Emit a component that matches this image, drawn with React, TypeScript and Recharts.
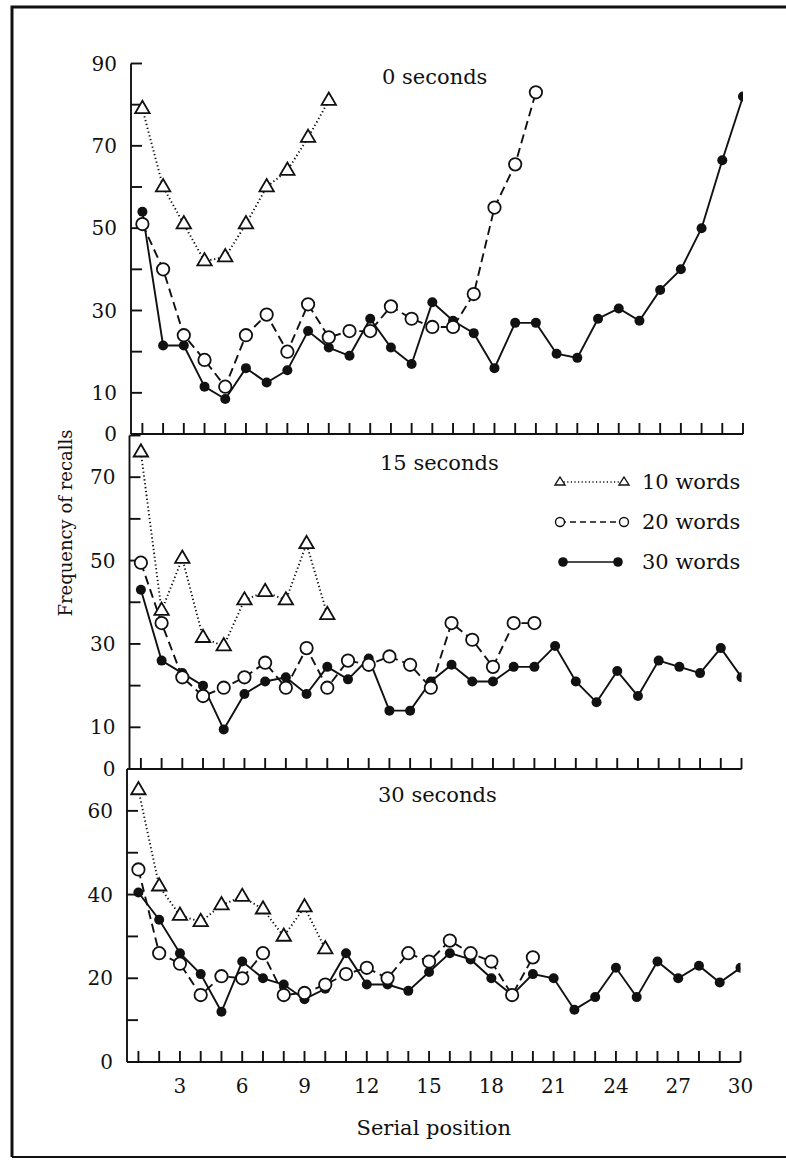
import React from "react";
import { LineChart, Line, XAxis, YAxis, Legend } from "recharts";

// serial positions
const positions = [1, 2, 3, 4, 5, 6, 7, 8, 9, 10, 11, 12, 13, 14, 15, 16, 17, 18, 19, 20, 21, 22, 23, 24, 25, 26, 27, 28, 29, 30];
const xTicks = positions;
const xLabelTicks = [3, 6, 9, 12, 15, 18, 21, 24, 27, 30];

// 0 seconds
const w10_0 = [79, 60, 51, 42, 43, 51, 60, 64, 72, 81];
const w20_0 = [51, 40, 24, 18, 11.5, 24, 29, 20, 31.5, 23.5, 25, 25, 31, 28, 26, 26, 34, 55, 65.5, 83];
const w30_0 = [54, 21.5, 21.5, 11.5, 8.5, 16, 12.5, 15.5, 25, 21, 19, 28, 21, 17, 32, 27.5, 24.5, 16, 27, 27, 19.5, 18.5, 28, 30.5, 27.5, 35, 40, 50, 66.5, 82];

// 15 seconds
const w10_15 = [76, 38, 50.5, 31.5, 29.5, 40.5, 42.5, 40.5, 54, 37];
const w20_15 = [49.5, 35, 22, 17.5, 19.5, 22, 25.5, 19.5, 29, 19.5, 26, 25, 27, 25, 19.5, 35, 31, 24.5, 35, 35];
const w30_15 = [43, 26, 23, 20, 9.5, 18, 21, 22, 18, 24.5, 21.5, 26.5, 14, 14, 21, 25, 21, 21, 24.5, 24.5, 29.5, 21, 16, 23.5, 17.5, 26, 24.5, 23, 29, 22];

// 30 seconds
const w10_30 = [65, 42, 35, 33.5, 37.5, 39.5, 36.5, 30, 37, 27];
const w20_30 = [46, 26, 23.5, 16, 20.5, 20, 26, 16, 16.5, 18.5, 21, 22.5, 20, 26, 24, 29, 26, 24, 16, 25];
const w30_30 = [40.5, 34, 26, 21, 12, 24, 20, 18.5, 15, 17.5, 26, 18.5, 18.5, 17, 21.5, 26, 24.5, 20, 16, 21, 20, 12.5, 15.5, 22.5, 15.5, 24, 20, 23, 19, 22.5];

// y ticks and which of them carry a label
const yTicks0 = [0, 10, 20, 30, 40, 50, 60, 70, 80, 90];
const yLabels0 = [0, 10, 30, 50, 70, 90];
const yTicks15 = [0, 10, 20, 30, 40, 50, 60, 70, 80];
const yLabels15 = [0, 10, 30, 50, 70];
const yTicks30 = [0, 10, 20, 30, 40, 50, 60, 70];
const yLabels30 = [0, 20, 40, 60];

const legendItems = ["10 words", "20 words", "30 words"];

const INK = "#111";
const FONT = "'DejaVu Serif', serif";

const rows = (a: number[], b: number[], c: number[]) =>
  positions.map((p, i) => ({
    pos: p,
    w10: a[i] ?? null,
    w20: b[i] ?? null,
    w30: c[i] ?? null,
  }));

const TriDot = (props: any) => {
  const { cx, cy, index } = props;
  if (cx == null || cy == null) return <g key={`t${index}`} />;
  return (
    <path
      key={`t${index}`}
      d={`M${cx},${cy - 8} L${cx + 7.2},${cy + 4.3} L${cx - 7.2},${cy + 4.3} Z`}
      fill="#fff"
      stroke={INK}
      strokeWidth={1.8}
    />
  );
};

const OpenDot = (props: any) => {
  const { cx, cy, index } = props;
  if (cx == null || cy == null) return <g key={`o${index}`} />;
  return <circle key={`o${index}`} cx={cx} cy={cy} r={6.2} fill="#fff" stroke={INK} strokeWidth={1.8} />;
};

const FilledDot = (props: any) => {
  const { cx, cy, index } = props;
  if (cx == null || cy == null) return <g key={`f${index}`} />;
  return <circle key={`f${index}`} cx={cx} cy={cy} r={5} fill={INK} />;
};

function LegendBox() {
  const styles = [
    { dash: "1.2 2.4", kind: "tri" },
    { dash: "6 4", kind: "open" },
    { dash: undefined, kind: "filled" },
  ];
  return (
    <div style={{ fontFamily: FONT, fontSize: 21, color: INK }}>
      {legendItems.map((name, i) => {
        const s = styles[i];
        const a = s.kind === "filled" ? 15 : 12;
        const b = s.kind === "filled" ? 70 : 76;
        return (
          <div key={name} style={{ display: "flex", alignItems: "center", height: 40 }}>
            <svg width={84} height={20}>
              <line x1={a} x2={b} y1={10} y2={10} stroke={INK} strokeWidth={1.6} strokeDasharray={s.dash} />
              {[a, b].map((x) =>
                s.kind === "tri" ? (
                  <path key={x} d={`M${x},${5} L${x + 5},${13} L${x - 5},${13} Z`} fill="#fff" stroke={INK} strokeWidth={1.4} />
                ) : s.kind === "open" ? (
                  <circle key={x} cx={x} cy={10} r={4.5} fill="#fff" stroke={INK} strokeWidth={1.4} />
                ) : (
                  <circle key={x} cx={x} cy={10} r={4.8} fill={INK} />
                )
              )}
            </svg>
            <span style={{ marginLeft: 10 }}>{name}</span>
          </div>
        );
      })}
    </div>
  );
}

function Panel({
  top,
  height,
  margin,
  xHeight,
  yTicks,
  yLabels,
  yMax,
  data,
  bottom,
  legend,
}: {
  top: number;
  height: number;
  margin: { top: number; right: number; left: number; bottom: number };
  xHeight: number;
  yTicks: number[];
  yLabels: number[];
  yMax: number;
  data: any[];
  bottom?: boolean;
  legend?: boolean;
}) {
  return (
    <div style={{ position: "absolute", left: 0, top }}>
      <LineChart width={786} height={height} data={data} margin={margin}>
        <XAxis
          dataKey="pos"
          type="number"
          domain={[0.45, 30]}
          allowDataOverflow
          ticks={xTicks}
          interval={0}
          height={xHeight}
          tickSize={-11}
          tickMargin={bottom ? 28 : 0}
          tickFormatter={(v: number) => (bottom && xLabelTicks.includes(v) ? String(v) : "")}
          tick={{ fontFamily: FONT, fontSize: 20, fill: INK }}
          stroke={INK}
          strokeWidth={1.9}
          label={
            bottom
              ? { value: "Serial position", position: "insideBottom", offset: 25, fontFamily: FONT, fontSize: 21, fill: INK }
              : undefined
          }
        />
        <YAxis
          type="number"
          domain={[0, yMax]}
          allowDataOverflow
          ticks={yTicks}
          interval={0}
          width={40}
          tickSize={-11}
          tickMargin={25}
          tickFormatter={(v: number) => (yLabels.includes(v) ? String(v) : "")}
          tick={{ fontFamily: FONT, fontSize: 20, fill: INK }}
          stroke={INK}
          strokeWidth={1.9}
        />
        {legend && (
          <Legend
            layout="horizontal"
            verticalAlign="middle"
            align="center"
            content={() => <LegendBox />}
            wrapperStyle={{ left: 548, top: 32, width: 220 }}
          />
        )}
        <Line
          dataKey="w30"
          name="30 words"
          type="linear"
          stroke={INK}
          strokeWidth={1.9}
          dot={FilledDot}
          activeDot={false}
          isAnimationActive={false}
        />
        <Line
          dataKey="w20"
          name="20 words"
          type="linear"
          stroke={INK}
          strokeWidth={1.9}
          strokeDasharray="9 5"
          dot={OpenDot}
          activeDot={false}
          isAnimationActive={false}
        />
        <Line
          dataKey="w10"
          name="10 words"
          type="linear"
          stroke={INK}
          strokeWidth={1.9}
          strokeDasharray="1.3 2.6"
          dot={TriDot}
          activeDot={false}
          isAnimationActive={false}
        />
      </LineChart>
    </div>
  );
}

export default function App() {
  return (
    <div style={{ position: "absolute", left: 0, top: 0, width: 786, height: 1160, background: "#fff", overflow: "hidden" }}>
      <Panel
        top={0}
        height={450}
        margin={{ top: 63.5, right: 43, left: 91, bottom: 0 }}
        xHeight={16}
        yTicks={yTicks0}
        yLabels={yLabels0}
        yMax={90}
        data={rows(w10_0, w20_0, w30_0)}
      />
      <Panel
        top={430}
        height={350}
        margin={{ top: 5.5, right: 44.5, left: 89.5, bottom: 0 }}
        xHeight={11}
        yTicks={yTicks15}
        yLabels={yLabels15}
        yMax={80}
        data={rows(w10_15, w20_15, w30_15)}
        legend
      />
      <Panel
        top={760}
        height={400}
        margin={{ top: 9, right: 45.5, left: 87, bottom: 0 }}
        xHeight={98}
        yTicks={yTicks30}
        yLabels={yLabels30}
        yMax={70}
        data={rows(w10_30, w20_30, w30_30)}
        bottom
      />
      <svg width={786} height={1160} style={{ position: "absolute", left: 0, top: 0, pointerEvents: "none" }}>
        <g fontFamily={FONT} fontSize={21} fill={INK}>
          <text x={382} y={84}>0 seconds</text>
          <text x={380} y={470}>15 seconds</text>
          <text x={378} y={802}>30 seconds</text>
        </g>
        <text x={72} y={523} transform="rotate(-90, 72, 523)" textAnchor="middle" fontFamily={FONT} fontSize={18} fill={INK}>
          Frequency of recalls
        </text>
        <path d="M12,1157 L12,7 L786,7" fill="none" stroke={INK} strokeWidth={3} />
        <line x1={12} x2={786} y1={1157} y2={1157} stroke={INK} strokeWidth={2} />
      </svg>
    </div>
  );
}
